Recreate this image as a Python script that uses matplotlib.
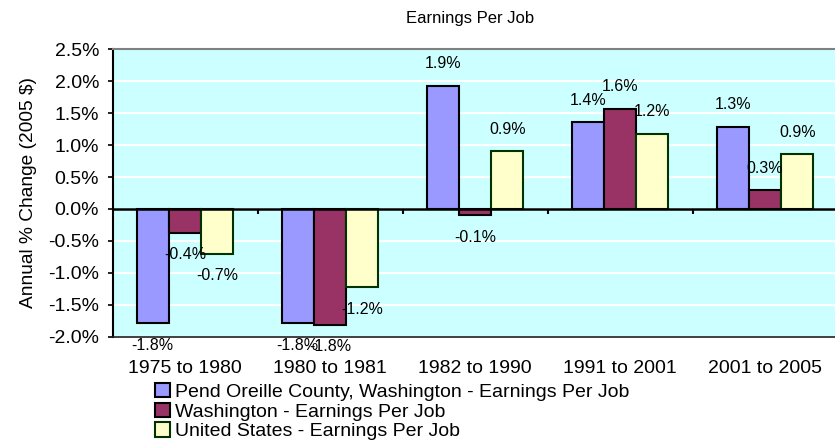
import matplotlib
matplotlib.use("Agg")
import matplotlib.pyplot as plt
import numpy as np

categories = ["1975 to 1980", "1980 to 1981", "1982 to 1990", "1991 to 2001", "2001 to 2005"]
series_names = ["Pend Oreille County, Washington - Earnings Per Job",
                "Washington - Earnings Per Job",
                "United States - Earnings Per Job"]
pend = [-1.79, -1.79, 1.93, 1.36, 1.29]
wash = [-0.375, -1.81, -0.10, 1.57, 0.29]
us = [-0.70, -1.225, 0.90, 1.18, 0.86]
yticks = [-2.0, -1.5, -1.0, -0.5, 0.0, 0.5, 1.0, 1.5, 2.0, 2.5]

colors = ["#9999FF", "#993366", "#FFFFCC"]
edges = ["#000000", "#000000", "#003300"]

plt.rcParams['font.family'] = ['Liberation Sans', 'DejaVu Sans']

fig = plt.figure(figsize=(8.35, 4.42), dpi=100)
ax = fig.add_axes([112.5/835, 1-336.7/442, 725/835, (336.7-49.3)/442])
ax.set_facecolor("#CCFFFF")

x = np.arange(len(categories))
w = 32.3/145
for i, (vals, c, e, name) in enumerate(zip([pend, wash, us], colors, edges, series_names)):
    xs = x + (i-1)*w
    ax.bar(xs, vals, width=w, color=c, edgecolor=e, linewidth=1.5, label=name, zorder=3)
    for xi, v in zip(xs, vals):
        ax.annotate(f"{v:.1f}%", (xi, v), xytext=(0, 22 if v >= 0 else -22),
                    textcoords='offset pixels', ha='center', va='center', fontsize=11.5, zorder=5)

ax.set_xlim(-0.5, len(categories)-0.5)
ax.set_ylim(-2.0, 2.5)
ax.set_yticks(yticks)
ax.set_yticklabels([f"{t:.1f}%" for t in yticks], fontsize=14)
ax.yaxis.grid(True, color='white', linewidth=1.5, zorder=0)
ax.set_axisbelow(True)
ax.tick_params(axis='y', direction='out', length=3.6, width=1.2, color='black', pad=6)
ax.set_xticks(x)
ax.set_xticklabels(categories, fontsize=14)
ax.tick_params(axis='x', length=0, pad=17)
ax.set_ylabel("Annual % Change (2005 $)", fontsize=13.8, labelpad=8)

ax.axhline(0, color='black', linewidth=1.8, zorder=4)
sec = ax.secondary_xaxis((0 - (-2.0)) / (2.5 - (-2.0)))
sec.set_xticks(x[:-1] + 0.5)
sec.set_xticklabels([])
sec.tick_params(axis='x', direction='out', length=3.6, width=1.5, color='black')
sec.spines['bottom'].set_visible(False)
sec.spines['top'].set_visible(False)

ax.spines['left'].set_color('black')
ax.spines['left'].set_linewidth(1.5)
ax.spines['top'].set_color('#808080')
ax.spines['top'].set_linewidth(1.5)
ax.spines['right'].set_color('#808080')
ax.spines['bottom'].set_color('#202020')
ax.spines['bottom'].set_linewidth(1.2)

fig.text(470/835, 1-19/442, "Earnings Per Job", ha='center', va='center', fontsize=12)

fig.legend(loc='upper left', bbox_to_anchor=(155/835, 1-383/442), frameon=False,
           fontsize=14, handlelength=0.77, handleheight=0.77, handletextpad=0.26,
           labelspacing=0.08, borderpad=0, borderaxespad=0)

fig.savefig("out.png", dpi=100)
